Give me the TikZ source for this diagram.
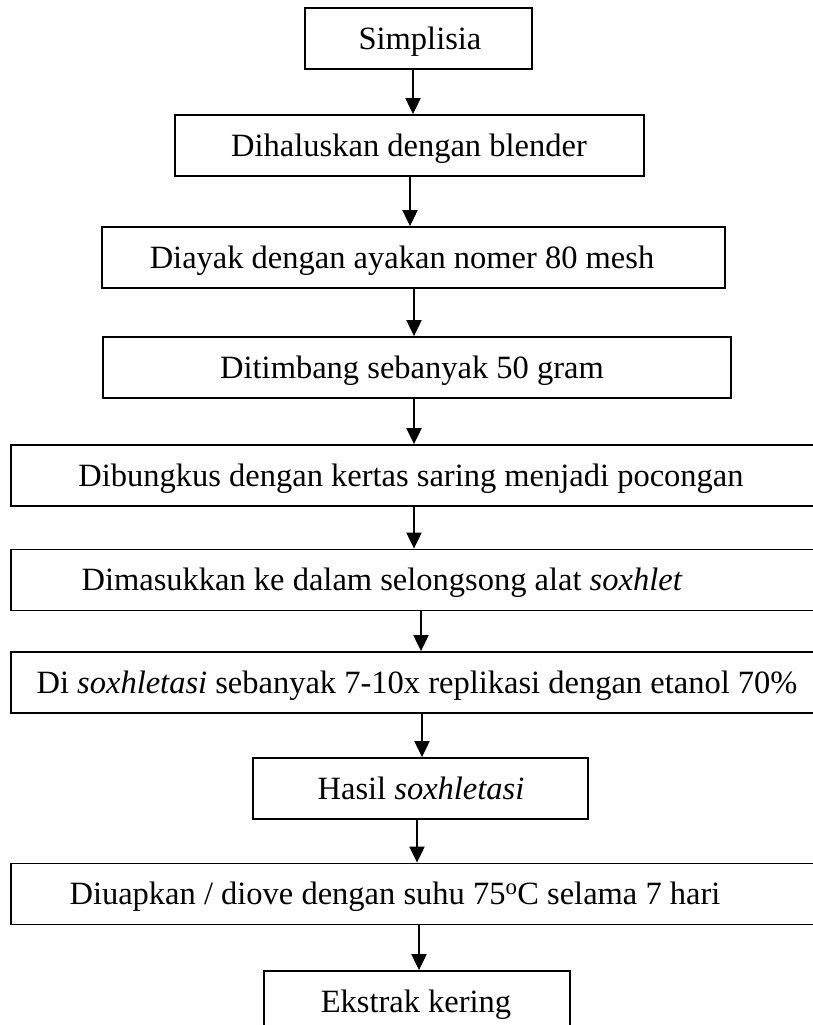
\documentclass[tikz,border=0pt]{standalone}
\usepackage{fontspec}
\setmainfont{Liberation Serif}
\usetikzlibrary{arrows.meta}
\tikzset{
  stepbox/.style={draw=black, line width=1.8pt, rectangle, inner sep=0pt, minimum height=61pt},
  lbl/.style={inner sep=0pt, font=\fontsize{32.5}{39}\selectfont, anchor=base},
  flow/.style={line width=2pt, -{Triangle[length=16pt,width=15pt]}},
}
\begin{document}
\begin{tikzpicture}[x=1pt,y=-1pt]
\useasboundingbox (0,0) rectangle (813,1025);
\clip (0,0) rectangle (813,1025);

% process boxes
\node[stepbox, minimum width=227pt] (b1)  at (418.5,38.5)  {};
\node[stepbox, minimum width=469pt] (b2)  at (409.5,145.5) {};
\node[stepbox, minimum width=623pt] (b3)  at (413.5,257.5) {};
\node[stepbox, minimum width=628pt] (b4)  at (417,367.5)   {};
\node[stepbox, minimum width=819pt] (b5)  at (420.5,475.5) {};
\node[stepbox, minimum width=819pt] (b6)  at (420.5,580)   {};
\node[stepbox, minimum width=819pt] (b7)  at (420.5,682.5) {};
\node[stepbox, minimum width=335pt] (b8)  at (420.5,788.5) {};
\node[stepbox, minimum width=819pt] (b9)  at (420.5,894)   {};
\node[stepbox, minimum width=306pt] (b10) at (417,1001.5)  {};

% box texts
\node[lbl] (t1)  at (420,49)   {Simplisia};
\node[lbl] (t2)  at (409,156)  {Dihaluskan dengan blender};
\node[lbl] (t3)  at (402,268)  {Diayak dengan ayakan nomer 80 mesh};
\node[lbl] (t4)  at (412,378)  {Ditimbang sebanyak 50 gram};
\node[lbl] (t5)  at (411,486)  {Dibungkus dengan kertas saring menjadi pocongan};
\node[lbl] (t6)  at (382,590)  {Dimasukkan ke dalam selongsong alat \textit{soxhlet}};
\node[lbl] (t7)  at (417,693)  {Di \textit{soxhletasi} sebanyak 7-10x replikasi dengan etanol 70\%};
\node[lbl] (t8)  at (421,799)  {Hasil \textit{soxhletasi}};
\node[lbl] (t9)  at (395,904)  {Diuapkan / diove dengan suhu 75\textsuperscript{o}C selama 7 hari};
\node[lbl] (t10) at (416,1012) {Ekstrak kering};

% arrow columns
\coordinate (a1) at (413,0);
\coordinate (a2) at (410,0);
\coordinate (a3) at (414,0);
\coordinate (a4) at (414,0);
\coordinate (a5) at (414,0);
\coordinate (a6) at (421,0);
\coordinate (a7) at (422,0);
\coordinate (a8) at (417,0);
\coordinate (a9) at (419,0);

\draw[flow] (b1.south -| a1) -- (b2.north -| a1);
\draw[flow] (b2.south -| a2) -- (b3.north -| a2);
\draw[flow] (b3.south -| a3) -- (b4.north -| a3);
\draw[flow] (b4.south -| a4) -- (b5.north -| a4);
\draw[flow] (b5.south -| a5) -- (b6.north -| a5);
\draw[flow] (b6.south -| a6) -- (b7.north -| a6);
\draw[flow] (b7.south -| a7) -- (b8.north -| a7);
\draw[flow] (b8.south -| a8) -- (b9.north -| a8);
\draw[flow] (b9.south -| a9) -- (b10.north -| a9);
\end{tikzpicture}
\end{document}
